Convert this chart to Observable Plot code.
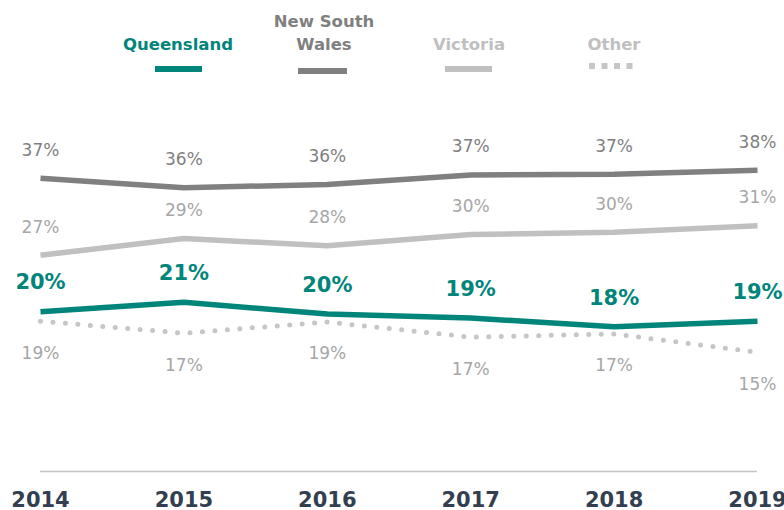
<!DOCTYPE html>
<html><head><meta charset="utf-8">
<script src="https://cdn.jsdelivr.net/npm/d3@7"></script>
<script src="https://cdn.jsdelivr.net/npm/@observablehq/plot@0.6"></script>
<style>
body{margin:0;background:#fff;font-family:"DejaVu Sans",sans-serif;}
#wrap{position:relative;width:784px;height:510px;overflow:hidden;background:#fff;}
#legend{position:relative;height:90px;}
.lg{position:absolute;bottom:34px;transform:translateX(-50%);text-align:center;font-weight:bold;font-size:16.5px;line-height:23px;white-space:nowrap;}
.sw{position:absolute;}
#chart svg g[aria-label="x-axis tick label"] text{font-weight:bold;}
</style></head><body>
<div id="wrap"><div id="legend"></div><div id="chart"></div></div>
<script>
// ---- data ----
const years = [2014, 2015, 2016, 2017, 2018, 2019];
const queensland    = [20.1, 21.3, 19.8, 19.3, 18.2, 18.9];
const newSouthWales = [36.9, 35.7, 36.1, 37.3, 37.4, 37.9];
const victoria      = [27.2, 29.3, 28.4, 29.8, 30.1, 30.9];
const other         = [18.9, 17.4, 18.8, 16.9, 17.3, 15.0];
const seriesNames = ["Queensland", "New South Wales", "Victoria", "Other"];
const legendLabels = ["Queensland", "New South<br>Wales", "Victoria", "Other"];

// ---- styles ----
const TEAL = "#00857b";
const style = {
  "Queensland":      {stroke: TEAL,      label: TEAL,      weight: "bold",   dy: -29, fs: 21},
  "New South Wales": {stroke: "#808080", label: "#7f7f7f", weight: "normal", dy: -28, fs: 17},
  "Victoria":        {stroke: "#c0c0c0", label: "#a6a6a6", weight: "normal", dy: -28, fs: 17},
  "Other":           {stroke: "#c6c6c6", label: "#a6a6a6", weight: "normal", dy: 32,  fs: 17}
};
const valuesBy = {"Queensland": queensland, "New South Wales": newSouthWales, "Victoria": victoria, "Other": other};
const rows = seriesNames.flatMap(s => years.map((y, i) => ({series: s, year: y, value: valuesBy[s][i]})));
const of = s => rows.filter(d => d.series === s);

// ---- legend ----
const legendLayout = [
  {cx: 178, sx: 155, sw: 47, sy: 66, dotted: false},
  {cx: 324, sx: 298, sw: 49, sy: 68, dotted: false},
  {cx: 469, sx: 445, sw: 47, sy: 66, dotted: false},
  {cx: 614, sx: 589, sw: 47, sy: 63, dotted: true}
];
const leg = document.getElementById("legend");
seriesNames.forEach((s, i) => {
  const L = legendLayout[i];
  const t = document.createElement("div");
  t.className = "lg";
  t.style.left = L.cx + "px";
  t.style.color = s === "Other" || s === "Victoria" ? "#c0c0c0" : style[s].stroke;
  t.innerHTML = legendLabels[i];
  leg.appendChild(t);
  const sw = document.createElementNS("http://www.w3.org/2000/svg", "svg");
  sw.setAttribute("class", "sw");
  sw.setAttribute("width", L.sw);
  sw.setAttribute("height", 6);
  sw.style.left = L.sx + "px";
  sw.style.top = L.sy + "px";
  sw.innerHTML = `<line x1="0" y1="3" x2="${L.sw}" y2="3" stroke="${style[s].stroke}" stroke-width="6" ${L.dotted ? 'stroke-dasharray="6 6.5"' : ''}/>`;
  leg.appendChild(sw);
});

// ---- chart ----
const marks = [
  Plot.ruleY([0], {stroke: "#c4c4c4", strokeWidth: 1.5}),
  Plot.lineY(of("Victoria"), {x: "year", y: "value", stroke: style["Victoria"].stroke, strokeWidth: 5.5, strokeLinecap: "butt"}),
  Plot.lineY(of("New South Wales"), {x: "year", y: "value", stroke: style["New South Wales"].stroke, strokeWidth: 5.5, strokeLinecap: "butt"}),
  Plot.lineY(of("Other"), {x: "year", y: "value", stroke: style["Other"].stroke, strokeWidth: 5, strokeDasharray: "0 12.5", strokeLinecap: "round"}),
  Plot.lineY(of("Queensland"), {x: "year", y: "value", stroke: style["Queensland"].stroke, strokeWidth: 5.5, strokeLinecap: "butt"}),
  ...seriesNames.map(s => Plot.text(of(s), {
    x: "year", y: "value",
    text: d => Math.round(d.value) + "%",
    dy: style[s].dy, fill: style[s].label, fontWeight: style[s].weight, fontSize: style[s].fs,
    fontFamily: "DejaVu Sans"
  })),
  Plot.axisX({ticks: years, tickFormat: d => String(d), tickSize: 0, tickPadding: 21,
    fontSize: 21, fontWeight: "bold", fill: "#333f50", fontFamily: "DejaVu Sans", label: null})
];

const chart = Plot.plot({
  width: 784, height: 420,
  marginLeft: 40, marginRight: 27, marginTop: 63, marginBottom: 39,
  style: {fontFamily: "DejaVu Sans", fontSize: "17px", background: "white", overflow: "hidden"},
  x: {type: "linear", domain: [2014, 2019], label: null},
  y: {domain: [0, 40], axis: null},
  marks
});
document.getElementById("chart").appendChild(chart);
</script>
</body></html>
